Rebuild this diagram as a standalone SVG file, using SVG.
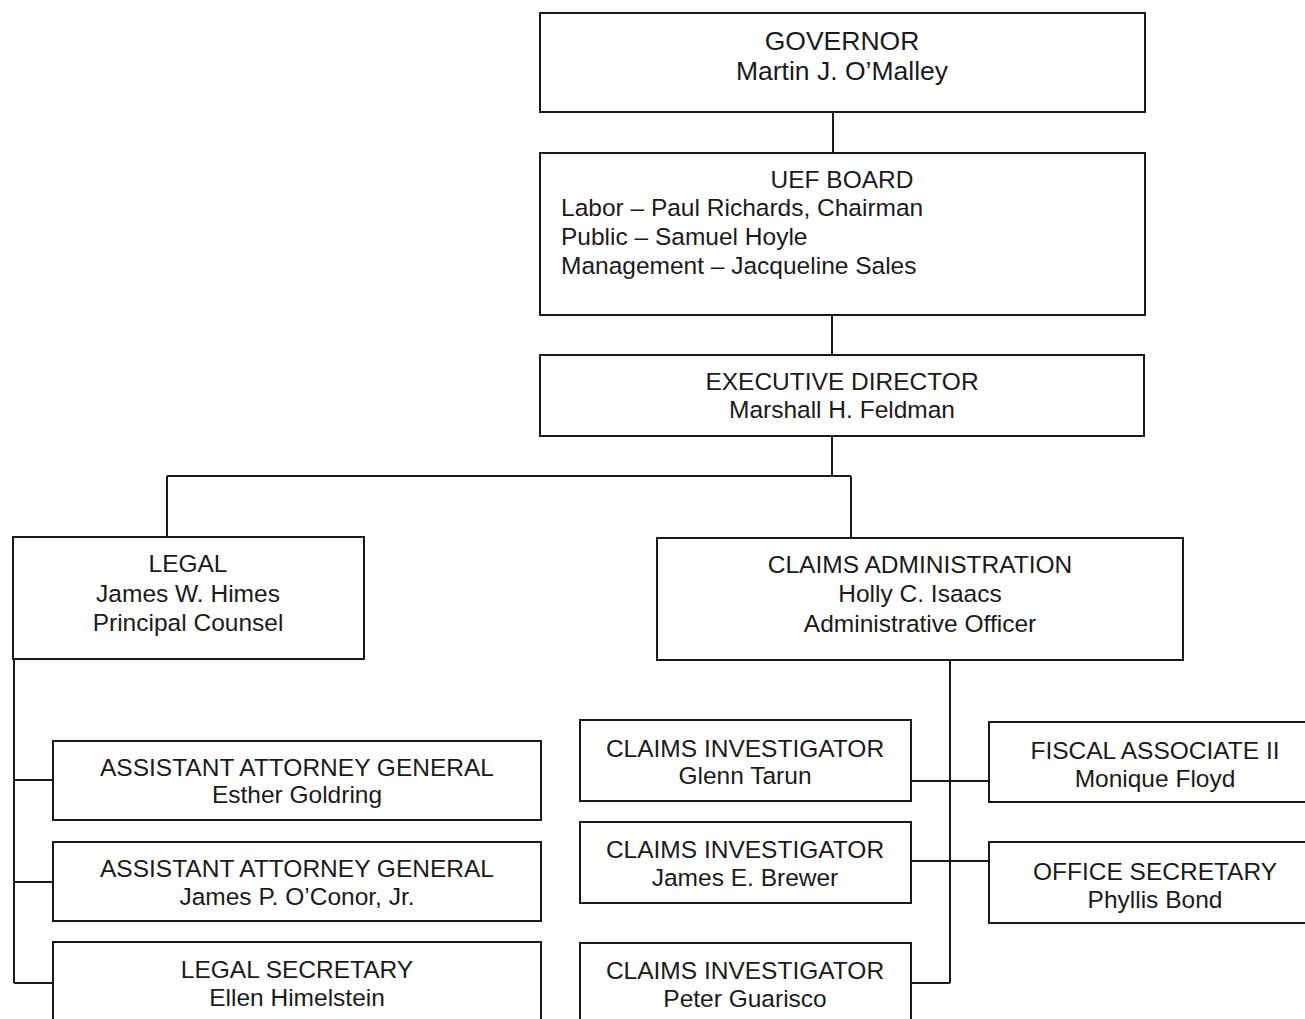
<svg xmlns="http://www.w3.org/2000/svg" width="1305" height="1019" viewBox="0 0 1305 1019">
<style>
.box{fill:#fff;stroke:#1a1a1a;stroke-width:2}
.ln{fill:none;stroke:#1a1a1a;stroke-width:2}
text{font-family:"Liberation Sans",Arial,sans-serif;font-size:24.5px;fill:#1a1a1a}
.c{text-anchor:middle}
.big{font-size:26.5px}
</style>
<rect width="1305" height="1019" fill="#fff"/>
<g id="connectors">
<path class="ln" d="M833 112V153"/>
<path class="ln" d="M832 315V355"/>
<path class="ln" d="M832 436V476M167 476H851M167 476V537M851 476V538"/>
<path class="ln" d="M14 659V983M14 780H53M14 882H53M14 983H53"/>
<path class="ln" d="M950 660V983M911 781H989M911 861H989M911 983H950"/>
</g>
<g id="governor"><rect class="box" x="540" y="13" width="605" height="99"/>
<text class="c big" x="842" y="50">GOVERNOR</text><text class="c big" x="842" y="80">Martin J. O’Malley</text></g>
<g id="uef-board"><rect class="box" x="540" y="153" width="605" height="162"/>
<text class="c" x="842" y="188">UEF BOARD</text>
<text x="561" y="216">Labor – Paul Richards, Chairman</text>
<text x="561" y="245">Public – Samuel Hoyle</text>
<text x="561" y="274">Management – Jacqueline Sales</text></g>
<g id="executive-director"><rect class="box" x="540" y="355" width="604" height="81"/>
<text class="c" x="842" y="390">EXECUTIVE DIRECTOR</text><text class="c" x="842" y="418">Marshall H. Feldman</text></g>
<g id="legal"><rect class="box" x="13" y="537" width="351" height="122"/>
<text class="c" x="188" y="572">LEGAL</text><text class="c" x="188" y="602">James W. Himes</text><text class="c" x="188" y="631">Principal Counsel</text></g>
<g id="claims-administration"><rect class="box" x="657" y="538" width="526" height="122"/>
<text class="c" x="920" y="573">CLAIMS ADMINISTRATION</text><text class="c" x="920" y="602">Holly C. Isaacs</text><text class="c" x="920" y="632">Administrative Officer</text></g>
<g id="aag-goldring"><rect class="box" x="53" y="741" width="488" height="79"/>
<text class="c" x="297" y="776">ASSISTANT ATTORNEY GENERAL</text><text class="c" x="297" y="803">Esther Goldring</text></g>
<g id="aag-oconor"><rect class="box" x="53" y="842" width="488" height="79"/>
<text class="c" x="297" y="877">ASSISTANT ATTORNEY GENERAL</text><text class="c" x="297" y="905">James P. O’Conor, Jr.</text></g>
<g id="legal-secretary"><rect class="box" x="53" y="942" width="488" height="90"/>
<text class="c" x="297" y="978">LEGAL SECRETARY</text><text class="c" x="297" y="1006">Ellen Himelstein</text></g>
<g id="ci-tarun"><rect class="box" x="580" y="720" width="331" height="81"/>
<text class="c" x="745" y="757">CLAIMS INVESTIGATOR</text><text class="c" x="745" y="784">Glenn Tarun</text></g>
<g id="ci-brewer"><rect class="box" x="580" y="822" width="331" height="81"/>
<text class="c" x="745" y="858">CLAIMS INVESTIGATOR</text><text class="c" x="745" y="886">James E. Brewer</text></g>
<g id="ci-guarisco"><rect class="box" x="580" y="943" width="331" height="90"/>
<text class="c" x="745" y="979">CLAIMS INVESTIGATOR</text><text class="c" x="745" y="1007">Peter Guarisco</text></g>
<g id="fiscal-associate"><rect class="box" x="989" y="722" width="330" height="80"/>
<text class="c" x="1155" y="759">FISCAL ASSOCIATE II</text><text class="c" x="1155" y="787">Monique Floyd</text></g>
<g id="office-secretary"><rect class="box" x="989" y="842" width="330" height="81"/>
<text class="c" x="1155" y="880">OFFICE SECRETARY</text><text class="c" x="1155" y="908">Phyllis Bond</text></g>
</svg>
